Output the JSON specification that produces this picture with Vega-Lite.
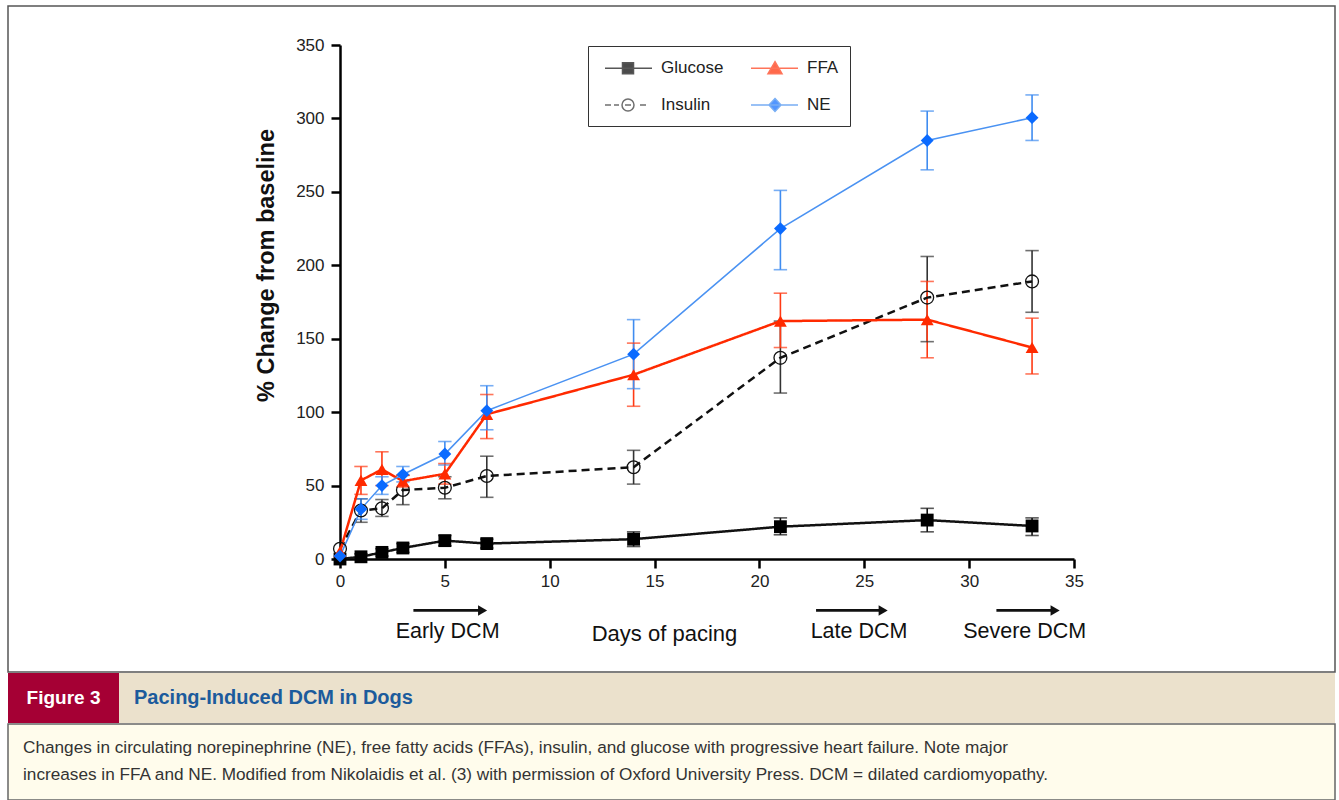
{
  "$schema": "https://vega.github.io/schema/vega-lite/v6.json",
  "padding": {"left": 7, "top": 5, "right": 5, "bottom": 3},
  "background": "white",
  "spacing": 0,
  "config": {"view": {"stroke": null}, "font": "Liberation Sans", "concat": {"spacing": 0}},
  "datasets": {
    "metabolic": [
      {"series": "Glucose", "day": 0, "value": 0, "lo": null, "hi": null},
      {"series": "Glucose", "day": 1, "value": 1.5, "lo": 0, "hi": 3.5},
      {"series": "Glucose", "day": 2, "value": 4.5, "lo": 2, "hi": 7},
      {"series": "Glucose", "day": 3, "value": 7.5, "lo": 4.5, "hi": 10.5},
      {"series": "Glucose", "day": 5, "value": 12.5, "lo": 9, "hi": 16},
      {"series": "Glucose", "day": 7, "value": 10.5, "lo": 7.5, "hi": 13.5},
      {"series": "Glucose", "day": 14, "value": 13.5, "lo": 8.5, "hi": 18.5},
      {"series": "Glucose", "day": 21, "value": 22, "lo": 16.5, "hi": 28},
      {"series": "Glucose", "day": 28, "value": 26.5, "lo": 18.5, "hi": 34.5},
      {"series": "Glucose", "day": 33, "value": 22.5, "lo": 16, "hi": 28},
      {"series": "Insulin", "day": 0, "value": 7, "lo": null, "hi": null},
      {"series": "Insulin", "day": 1, "value": 33, "lo": 25, "hi": 41},
      {"series": "Insulin", "day": 2, "value": 34.5, "lo": 29, "hi": 40.5},
      {"series": "Insulin", "day": 3, "value": 47, "lo": 37, "hi": 57},
      {"series": "Insulin", "day": 5, "value": 48.5, "lo": 41, "hi": 56},
      {"series": "Insulin", "day": 7, "value": 56.5, "lo": 42, "hi": 70},
      {"series": "Insulin", "day": 14, "value": 62.5, "lo": 51, "hi": 74},
      {"series": "Insulin", "day": 21, "value": 137, "lo": 113, "hi": 162},
      {"series": "Insulin", "day": 28, "value": 178, "lo": 148, "hi": 206},
      {"series": "Insulin", "day": 33, "value": 189, "lo": 168, "hi": 210},
      {"series": "FFA", "day": 0, "value": 5, "lo": null, "hi": null},
      {"series": "FFA", "day": 1, "value": 53.5, "lo": 44, "hi": 63},
      {"series": "FFA", "day": 2, "value": 61, "lo": 50, "hi": 73},
      {"series": "FFA", "day": 3, "value": 53, "lo": 49, "hi": 57},
      {"series": "FFA", "day": 5, "value": 58, "lo": 51, "hi": 65},
      {"series": "FFA", "day": 7, "value": 98.5, "lo": 82, "hi": 112},
      {"series": "FFA", "day": 14, "value": 125.5, "lo": 104, "hi": 147},
      {"series": "FFA", "day": 21, "value": 162, "lo": 144, "hi": 181},
      {"series": "FFA", "day": 28, "value": 163, "lo": 137, "hi": 189},
      {"series": "FFA", "day": 33, "value": 144, "lo": 126, "hi": 164},
      {"series": "NE", "day": 0, "value": 2, "lo": null, "hi": null},
      {"series": "NE", "day": 1, "value": 34, "lo": 27, "hi": 41},
      {"series": "NE", "day": 2, "value": 50, "lo": 44, "hi": 56},
      {"series": "NE", "day": 3, "value": 57.5, "lo": 52.5, "hi": 63},
      {"series": "NE", "day": 5, "value": 71.5, "lo": 64, "hi": 80},
      {"series": "NE", "day": 7, "value": 101, "lo": 88, "hi": 118},
      {"series": "NE", "day": 14, "value": 139.5, "lo": 116, "hi": 163},
      {"series": "NE", "day": 21, "value": 225, "lo": 197, "hi": 251},
      {"series": "NE", "day": 28, "value": 285, "lo": 265, "hi": 305},
      {"series": "NE", "day": 33, "value": 300.5, "lo": 285, "hi": 316}
    ],
    "phases": [
      {"phase": "Early DCM", "start": 3.5, "end": 6.8, "mid": 5.13},
      {"phase": "Late DCM", "start": 22.7, "end": 25.9, "mid": 24.75},
      {"phase": "Severe DCM", "start": 31.3, "end": 34.1, "mid": 32.65}
    ],
    "header": [{"label": "Figure 3"}],
    "headerTitle": [{"label": "Pacing-Induced DCM in Dogs"}],
    "caption": [{"text": ["Changes in circulating norepinephrine (NE), free fatty acids (FFAs), insulin, and glucose with progressive heart failure. Note major", "increases in FFA and NE. Modified from Nikolaidis et al. (3) with permission of Oxford University Press. DCM = dilated cardiomyopathy."]}]
  },
  "vconcat": [
    {
      "width": 1327,
      "height": 666,
      "view": {"stroke": "#555555", "strokeWidth": 1.5, "fill": "white"},
      "layer": [
        {
          "data": {"name": "metabolic"},
          "mark": {"type": "rule", "strokeWidth": 1.6},
          "encoding": {
            "x": {"field": "day", "type": "quantitative", "title": "Days of pacing", "scale": {"domain": [0, 35], "range": [332, 1066], "nice": false, "zero": false}},
            "y": {"field": "lo", "type": "quantitative", "title": "% Change from baseline", "scale": {"domain": [0, 350], "range": [553, 39], "nice": false, "zero": false}},
            "y2": {"field": "hi"},
            "stroke": {"field": "series", "type": "nominal", "scale": {"domain": ["Glucose", "FFA", "Insulin", "NE"], "range": ["#111111", "#ff3a14", "#333333", "#3f8cf0"]}}
          }
        },
        {
          "data": {"name": "metabolic"},
          "mark": {"type": "tick", "orient": "horizontal", "size": 12, "thickness": 0.2, "filled": false, "strokeWidth": 1.4},
          "encoding": {
            "x": {"field": "day", "type": "quantitative", "title": "Days of pacing", "scale": {"domain": [0, 35], "range": [332, 1066], "nice": false, "zero": false}},
            "y": {"field": "lo", "type": "quantitative", "title": "% Change from baseline", "scale": {"domain": [0, 350], "range": [553, 39], "nice": false, "zero": false}},
            "stroke": {"field": "series", "type": "nominal", "scale": {"domain": ["Glucose", "FFA", "Insulin", "NE"], "range": ["#111111", "#ff3a14", "#333333", "#3f8cf0"]}}
          }
        },
        {
          "data": {"name": "metabolic"},
          "mark": {"type": "tick", "orient": "horizontal", "size": 12, "thickness": 0.2, "filled": false, "strokeWidth": 1.4},
          "encoding": {
            "x": {"field": "day", "type": "quantitative", "title": "Days of pacing", "scale": {"domain": [0, 35], "range": [332, 1066], "nice": false, "zero": false}},
            "y": {"field": "hi", "type": "quantitative", "title": "% Change from baseline", "scale": {"domain": [0, 350], "range": [553, 39], "nice": false, "zero": false}},
            "stroke": {"field": "series", "type": "nominal", "scale": {"domain": ["Glucose", "FFA", "Insulin", "NE"], "range": ["#111111", "#ff3a14", "#333333", "#3f8cf0"]}}
          }
        },
        {
          "data": {"name": "metabolic"},
          "transform": [{"filter": "datum.series !== 'NE'"}],
          "mark": {"type": "line", "strokeWidth": 2.5},
          "encoding": {
            "x": {"field": "day", "type": "quantitative", "title": "Days of pacing", "scale": {"domain": [0, 35], "range": [332, 1066], "nice": false, "zero": false}},
            "y": {"field": "value", "type": "quantitative", "title": "% Change from baseline", "scale": {"domain": [0, 350], "range": [553, 39], "nice": false, "zero": false}},
            "strokeDash": {"field": "series", "type": "nominal", "scale": {"domain": ["NE", "Insulin", "FFA", "Glucose"], "range": [[1, 0], [8, 5], [1, 0], [1, 0]]}, "legend": null},
            "color": {"field": "series", "type": "nominal", "scale": {"domain": ["NE", "Insulin", "FFA", "Glucose"], "range": ["#3f8cf0", "#111111", "#ff2a00", "#111111"]}, "legend": null}
          }
        },
        {
          "data": {"name": "metabolic"},
          "transform": [{"filter": "datum.series === 'NE'"}],
          "mark": {"type": "line", "strokeWidth": 1.6, "color": "#4a92f2"},
          "encoding": {
            "x": {"field": "day", "type": "quantitative", "title": "Days of pacing", "scale": {"domain": [0, 35], "range": [332, 1066], "nice": false, "zero": false}},
            "y": {"field": "value", "type": "quantitative", "title": "% Change from baseline", "scale": {"domain": [0, 350], "range": [553, 39], "nice": false, "zero": false}}
          }
        },
        {
          "data": {"name": "metabolic"},
          "transform": [{"filter": "datum.series === 'Glucose'"}],
          "mark": {"type": "point", "shape": "square", "filled": true, "size": 165, "color": "#000000", "opacity": 1},
          "encoding": {
            "x": {
              "field": "day", "type": "quantitative", "title": "Days of pacing",
              "scale": {"domain": [0, 35], "range": [332, 1066], "nice": false, "zero": false},
              "axis": {
                "values": [0, 5, 10, 15, 20, 25, 30, 35], "offset": -113, "grid": false,
                "tickSize": 9, "tickWidth": 2.5, "tickColor": "#000000",
                "domainColor": "#000000", "domainWidth": 2.5,
                "labelFontSize": 17, "labelColor": "#222222", "labelPadding": 5, "labelFlush": false, "labelOverlap": false,
                "title": "Days of pacing", "titleFontSize": 22, "titleFontWeight": "normal", "titleColor": "#111111",
                "titleX": 656, "titleY": 74, "titleAlign": "center", "titleBaseline": "middle"
              }
            },
            "y": {
              "field": "value", "type": "quantitative", "title": "% Change from baseline",
              "scale": {"domain": [0, 350], "range": [553, 39], "nice": false, "zero": false},
              "axis": {
                "values": [0, 50, 100, 150, 200, 250, 300, 350], "offset": -332, "grid": false,
                "tickSize": 9, "tickWidth": 2.5, "tickColor": "#000000",
                "domainColor": "#000000", "domainWidth": 2.5,
                "labelFontSize": 17, "labelColor": "#222222", "labelPadding": 7, "labelFlush": false, "labelOverlap": false,
                "title": "% Change from baseline", "titleFontSize": 23.5, "titleFontWeight": "bold", "titleColor": "#111111",
                "titleX": -74, "titleY": 259, "titleAngle": 270, "titleAlign": "center", "titleBaseline": "middle"
              }
            }
          }
        },
        {
          "data": {"name": "metabolic"},
          "transform": [{"filter": "datum.series === 'Insulin'"}],
          "mark": {"type": "point", "shape": "circle", "filled": false, "size": 165, "stroke": "#111111", "strokeWidth": 1.3, "opacity": 1},
          "encoding": {
            "x": {"field": "day", "type": "quantitative", "title": "Days of pacing", "scale": {"domain": [0, 35], "range": [332, 1066], "nice": false, "zero": false}},
            "y": {"field": "value", "type": "quantitative", "title": "% Change from baseline", "scale": {"domain": [0, 350], "range": [553, 39], "nice": false, "zero": false}}
          }
        },
        {
          "data": {"name": "metabolic"},
          "transform": [{"filter": "datum.series === 'FFA'"}],
          "mark": {"type": "point", "shape": "triangle-up", "filled": true, "size": 165, "color": "#ff2a00", "opacity": 1},
          "encoding": {
            "x": {"field": "day", "type": "quantitative", "title": "Days of pacing", "scale": {"domain": [0, 35], "range": [332, 1066], "nice": false, "zero": false}},
            "y": {"field": "value", "type": "quantitative", "title": "% Change from baseline", "scale": {"domain": [0, 350], "range": [553, 39], "nice": false, "zero": false}}
          }
        },
        {
          "data": {"name": "metabolic"},
          "transform": [{"filter": "datum.series === 'NE'"}],
          "mark": {"type": "point", "shape": "diamond", "filled": true, "size": 165, "color": "#0a6aff", "opacity": 1},
          "encoding": {
            "x": {"field": "day", "type": "quantitative", "title": "Days of pacing", "scale": {"domain": [0, 35], "range": [332, 1066], "nice": false, "zero": false}},
            "y": {"field": "value", "type": "quantitative", "title": "% Change from baseline", "scale": {"domain": [0, 350], "range": [553, 39], "nice": false, "zero": false}}
          }
        },
        {
          "data": {"name": "metabolic"},
          "transform": [{"filter": "false"}],
          "mark": {"type": "point", "filled": true, "size": 400, "opacity": 1, "fillOpacity": 1, "strokeOpacity": 1},
          "encoding": {
            "shape": {
              "field": "series", "type": "nominal",
              "scale": {"domain": ["Glucose", "FFA", "Insulin", "NE"], "range": [
                "M-0.5,0H4.2M1.25,-0.55H2.35V0.55H1.25Z",
                "M-0.5,0H4.2M1.9,-0.65L2.6,0.55H1.2Z",
                "M-0.5,0H0.1M0.4,0H0.9M1.8,-0.6A0.6,0.6 0 1,1 1.8,0.6A0.6,0.6 0 1,1 1.8,-0.6M1.5,0H2.1M3.0,0H3.6",
                "M-0.5,0H4.2M1.9,-0.65L2.5,0L1.9,0.65L1.3,0Z"
              ]},
              "legend": {
                "title": null, "orient": "none", "legendX": 580, "legendY": 40,
                "columns": 2, "direction": "horizontal",
                "strokeColor": "#333333", "fillColor": "#ffffff", "padding": 11,
                "rowPadding": 17, "columnPadding": 21,
                "symbolSize": 400, "symbolStrokeWidth": 1.5, "symbolOpacity": 1, "labelOffset": 40,
                "labelFontSize": 17, "labelColor": "#222222", "labelFont": "Liberation Sans"
              }
            },
            "fill": {"field": "series", "type": "nominal", "scale": {"domain": ["Glucose", "FFA", "Insulin", "NE"], "range": ["#000000", "#ff2a00", "transparent", "#0a6aff"]}},
            "stroke": {"field": "series", "type": "nominal", "scale": {"domain": ["Glucose", "FFA", "Insulin", "NE"], "range": ["#111111", "#ff3a14", "#333333", "#3f8cf0"]}}
          }
        },
        {
          "data": {"name": "phases"},
          "mark": {"type": "rule", "strokeWidth": 2.6, "color": "#111111"},
          "encoding": {
            "x": {"field": "start", "type": "quantitative", "title": "Days of pacing", "scale": {"domain": [0, 35], "range": [332, 1066], "nice": false, "zero": false}},
            "x2": {"field": "end"},
            "y": {"datum": -35, "type": "quantitative", "title": "% Change from baseline", "scale": {"domain": [0, 350], "range": [553, 39], "nice": false, "zero": false}}
          }
        },
        {
          "data": {"name": "phases"},
          "mark": {"type": "point", "shape": "triangle-right", "filled": true, "size": 110, "color": "#111111", "opacity": 1, "dx": -5},
          "encoding": {
            "x": {"field": "end", "type": "quantitative", "title": "Days of pacing", "scale": {"domain": [0, 35], "range": [332, 1066], "nice": false, "zero": false}},
            "y": {"datum": -35, "type": "quantitative", "title": "% Change from baseline", "scale": {"domain": [0, 350], "range": [553, 39], "nice": false, "zero": false}}
          }
        },
        {
          "data": {"name": "phases"},
          "mark": {"type": "text", "fontSize": 21.5, "fill": "#111111", "align": "center", "baseline": "middle"},
          "encoding": {
            "x": {"field": "mid", "type": "quantitative", "title": "Days of pacing", "scale": {"domain": [0, 35], "range": [332, 1066], "nice": false, "zero": false}},
            "y": {"datum": -50, "type": "quantitative", "title": "% Change from baseline", "scale": {"domain": [0, 350], "range": [553, 39], "nice": false, "zero": false}},
            "text": {"field": "phase", "type": "nominal"}
          }
        }
      ]
    },
    {
      "hconcat": [
        {
          "width": 111,
          "height": 50,
          "view": {"fill": "#a50034", "stroke": null},
          "data": {"name": "header"},
          "mark": {"type": "text", "fontSize": 19, "fontWeight": "bold", "fill": "#ffffff", "align": "center", "baseline": "middle"},
          "encoding": {"text": {"field": "label", "type": "nominal"}}
        },
        {
          "width": 1216,
          "height": 50,
          "view": {"fill": "#ebe1cc", "stroke": null},
          "data": {"name": "headerTitle"},
          "mark": {"type": "text", "fontSize": 20, "fontWeight": "bold", "fill": "#1c5b9c", "align": "left", "baseline": "middle", "dx": 15},
          "encoding": {
            "text": {"field": "label", "type": "nominal"},
            "x": {"datum": 0, "type": "quantitative", "scale": {"domain": [0, 1]}, "axis": null}
          }
        }
      ],
      "spacing": 0
    },
    {
      "width": 1327,
      "height": 76,
      "view": {"fill": "#fffcec", "stroke": "#666666", "strokeWidth": 1.5},
      "data": {"name": "caption"},
      "mark": {"type": "text", "fontSize": 17.2, "fill": "#333333", "align": "left", "baseline": "middle", "dx": 15, "dy": -14, "lineHeight": 27},
      "encoding": {
        "text": {"field": "text", "type": "nominal"},
        "x": {"datum": 0, "type": "quantitative", "scale": {"domain": [0, 1]}, "axis": null}
      }
    }
  ]
}
